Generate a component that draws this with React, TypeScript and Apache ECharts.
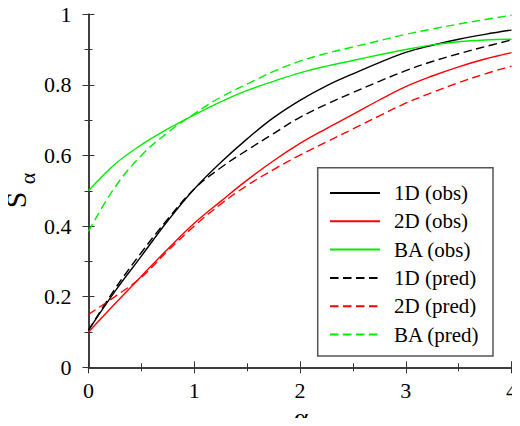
import React, { useEffect, useRef } from "react";
import * as echarts from "echarts";

// α sample points shared by every curve
const alpha = [0, 0.25, 0.5, 0.75, 1, 1.25, 1.5, 1.75, 2, 2.25, 2.5, 2.75, 3, 3.25, 3.5, 3.75, 4];

// observed S_α
const obs1D = [0.105, 0.215, 0.315, 0.415, 0.505, 0.58, 0.647, 0.707, 0.756, 0.797, 0.831, 0.863, 0.892, 0.912, 0.929, 0.943, 0.955];
const obs2D = [0.1, 0.18, 0.258, 0.335, 0.408, 0.47, 0.53, 0.585, 0.634, 0.676, 0.716, 0.757, 0.795, 0.825, 0.851, 0.873, 0.891];
const obsBA = [0.5, 0.575, 0.63, 0.675, 0.715, 0.752, 0.784, 0.81, 0.834, 0.853, 0.869, 0.885, 0.9, 0.913, 0.922, 0.927, 0.929];

// predicted S_α
const pred1D = [0.105, 0.222, 0.325, 0.42, 0.505, 0.565, 0.615, 0.662, 0.708, 0.745, 0.778, 0.81, 0.84, 0.866, 0.888, 0.908, 0.927];
const pred2D = [0.15, 0.2, 0.255, 0.33, 0.4, 0.462, 0.515, 0.56, 0.601, 0.638, 0.675, 0.712, 0.748, 0.778, 0.806, 0.831, 0.853];
const predBA = [0.385, 0.51, 0.6, 0.665, 0.718, 0.765, 0.802, 0.838, 0.867, 0.889, 0.907, 0.925, 0.943, 0.958, 0.972, 0.985, 0.997];

const xTicks = [0, 1, 2, 3, 4];
const yTicks = [0, 0.2, 0.4, 0.6, 0.8, 1];

const SERIF = "Liberation Serif";
const AXIS_COLOR = "#333";
const BLACK = "#000000";
const RED = "#ff0000";
const GREEN = "#00ee00";

const curves = [
  { name: "1D (obs)", values: obs1D, color: BLACK, dashed: false },
  { name: "2D (obs)", values: obs2D, color: RED, dashed: false },
  { name: "BA (obs)", values: obsBA, color: GREEN, dashed: false },
  { name: "1D (pred)", values: pred1D, color: BLACK, dashed: true },
  { name: "2D (pred)", values: pred2D, color: RED, dashed: true },
  { name: "BA (pred)", values: predBA, color: GREEN, dashed: true },
];

// every text of the chart is set in the serif face
const chartCss = `.s-alpha-chart text { font-family: "Liberation Serif", "Times New Roman", serif !important; }`;

export default function App() {
  const ref = useRef<HTMLDivElement>(null);

  useEffect(() => {
    if (!ref.current) return;
    const chart = echarts.init(ref.current, null, { renderer: "svg" });

    const tickCommon = {
      axisLine: { show: true, lineStyle: { color: AXIS_COLOR, width: 1.5 } },
      axisTick: { show: true, inside: true, length: 6, lineStyle: { color: AXIS_COLOR, width: 1 } },
      minorTick: { show: true, splitNumber: 2, length: 4, lineStyle: { color: AXIS_COLOR, width: 1 } },
      splitLine: { show: false },
    };

    chart.setOption({
      animation: false,
      backgroundColor: "#ffffff",
      grid: { left: 88.5, right: 8.5, top: 14.2, bottom: 58.7 },
      xAxis: [
        {
          type: "value",
          min: xTicks[0],
          max: xTicks[xTicks.length - 1],
          interval: 1,
          position: "bottom",
          ...tickCommon,
          axisLabel: { margin: 12, color: "#000", fontFamily: SERIF, fontSize: 22 },
        },
        {
          type: "value",
          min: xTicks[0],
          max: xTicks[xTicks.length - 1],
          interval: 1,
          position: "top",
          ...tickCommon,
          axisLabel: { show: false },
        },
      ],
      yAxis: [
        {
          type: "value",
          min: yTicks[0],
          max: yTicks[yTicks.length - 1],
          interval: 0.2,
          position: "left",
          ...tickCommon,
          axisLabel: { margin: 17, color: "#000", fontFamily: SERIF, fontSize: 22 },
        },
        {
          type: "value",
          min: yTicks[0],
          max: yTicks[yTicks.length - 1],
          interval: 0.2,
          position: "right",
          ...tickCommon,
          axisLabel: { show: false },
        },
      ],
      legend: {
        orient: "vertical",
        left: 329,
        top: 182.5,
        padding: 0,
        itemWidth: 50,
        itemHeight: 14,
        itemGap: 7.3,
        selectedMode: false,
        itemStyle: { color: "rgba(0,0,0,0)", borderColor: "rgba(0,0,0,0)", borderWidth: 0 },
        textStyle: { fontFamily: SERIF, fontSize: 21, color: "#000", padding: [0, 0, 0, 9] },
        data: curves.map((c) => c.name),
      },
      graphic: [
        {
          type: "rect",
          shape: { x: 317.7, y: 167.7, width: 175.3, height: 188.3 },
          style: { fill: "rgba(0,0,0,0)", stroke: "#555", lineWidth: 1.5 },
        },
        {
          type: "text",
          x: 15,
          y: 200,
          rotation: Math.PI / 2,
          style: { text: "S", fontFamily: SERIF, fontSize: 30, fill: "#000", align: "center", verticalAlign: "middle" },
        },
        {
          type: "text",
          x: 27,
          y: 178.5,
          rotation: Math.PI / 2,
          style: { text: "α", fontFamily: SERIF, fontSize: 22, fill: "#000", align: "center", verticalAlign: "middle" },
        },
        {
          type: "text",
          x: 301,
          y: 417,
          style: { text: "α", fontFamily: SERIF, fontSize: 28, fill: "#000", align: "center", verticalAlign: "middle" },
        },
      ],
      series: curves.map((c) => ({
        name: c.name,
        type: "line",
        data: alpha.map((a, i) => [a, c.values[i]]),
        smooth: 0.4,
        showSymbol: false,
        symbol: "none",
        color: c.color,
        lineStyle: { color: c.color, width: 1.4, type: c.dashed ? [8.5, 4.5] : "solid" },
      })),
    });

    return () => chart.dispose();
  }, []);

  return (
    <>
      <div ref={ref} className="s-alpha-chart" style={{ width: 520, height: 426, margin: -8 }} />
      <style>{chartCss}</style>
    </>
  );
}
